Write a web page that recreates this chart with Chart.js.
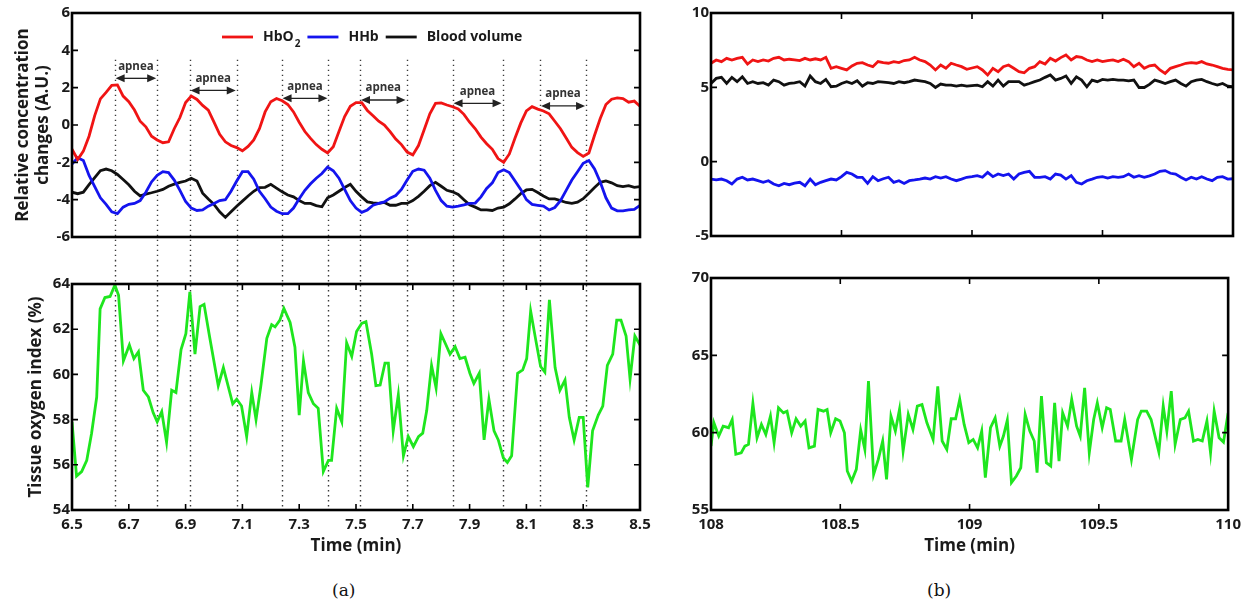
<!DOCTYPE html>
<html>
<head>
<meta charset="utf-8">
<title>NIRS during apnea</title>
<script src="https://cdn.jsdelivr.net/npm/chart.js@4.4.1/dist/chart.umd.min.js"></script>
<style>
  body { margin: 0; background: #fff; }
  #wrap { position: relative; width: 1247px; height: 608px; overflow: hidden; }
  canvas { position: absolute; }
  .cap { position: absolute; font-family: "DejaVu Serif", serif; font-size: 17px; color: #111; }
</style>
</head>
<body>
<div id="wrap">
  <canvas id="topA" width="660" height="260" style="left:0;top:0"></canvas>
  <canvas id="botA" width="660" height="300" style="left:0;top:260px"></canvas>
  <canvas id="topB" width="567" height="260" style="left:680px;top:0"></canvas>
  <canvas id="botB" width="567" height="300" style="left:680px;top:260px"></canvas>
  <div class="cap" style="left:332px;top:580px">(a)</div>
  <div class="cap" style="left:927px;top:580px">(b)</div>
</div>
<script>
// ---- panel (a): apnea episodes, 6.5 - 8.5 min ----
const timeA = [6.50, 6.52, 6.54, 6.56, 6.58, 6.60, 6.62, 6.64, 6.66, 6.68,
  6.70, 6.72, 6.74, 6.76, 6.78, 6.80, 6.82, 6.84, 6.86, 6.88,
  6.90, 6.92, 6.94, 6.96, 6.98, 7.00, 7.02, 7.04, 7.06, 7.08,
  7.10, 7.12, 7.14, 7.16, 7.18, 7.20, 7.22, 7.24, 7.26, 7.28,
  7.30, 7.32, 7.34, 7.36, 7.38, 7.40, 7.42, 7.44, 7.46, 7.48,
  7.50, 7.52, 7.54, 7.56, 7.58, 7.60, 7.62, 7.64, 7.66, 7.68,
  7.70, 7.72, 7.74, 7.76, 7.78, 7.80, 7.82, 7.84, 7.86, 7.88,
  7.90, 7.92, 7.94, 7.96, 7.98, 8.00, 8.02, 8.04, 8.06, 8.08,
  8.10, 8.12, 8.14, 8.16, 8.18, 8.20, 8.22, 8.24, 8.26, 8.28,
  8.30, 8.32, 8.34, 8.36, 8.38, 8.40, 8.42, 8.44, 8.46, 8.48, 8.50];

const hbo2A = [-1.3, -1.85, -1.4, -0.6, 0.5, 1.4, 1.75, 2.12, 2.15, 1.55,
  1.25, 0.8, 0.2, -0.1, -0.6, -0.8, -0.95, -0.9, -0.2, 0.4,
  1.2, 1.55, 1.37, 1.05, 0.8, 0.15, -0.5, -0.9, -1.1, -1.21,
  -1.38, -1.15, -0.8, -0.2, 0.7, 1.25, 1.42, 1.3, 1.1, 0.7,
  0.15, -0.35, -0.72, -1.05, -1.3, -1.5, -1.16, -0.35, 0.45, 1.0,
  1.2, 1.2, 0.78, 0.5, 0.2, 0.0, -0.35, -0.75, -1.05, -1.45,
  -1.6, -1.1, -0.25, 0.6, 1.16, 1.18, 1.07, 0.98, 0.86, 0.57,
  0.15, -0.2, -0.65, -1.0, -1.3, -1.8, -2.0, -1.55, -0.7, 0.1,
  0.75, 0.98, 0.85, 0.75, 0.6, 0.2, -0.2, -0.7, -1.2, -1.48,
  -1.68, -1.5, -0.55, 0.35, 1.1, 1.38, 1.45, 1.42, 1.22, 1.28, 1.0];

const hhbA = [-2.1, -1.75, -1.9, -2.7, -3.3, -3.9, -4.25, -4.65, -4.75, -4.4,
  -4.25, -4.2, -4.05, -3.6, -3.05, -2.7, -2.5, -2.55, -2.95, -3.5,
  -4.1, -4.45, -4.58, -4.55, -4.35, -4.2, -4.05, -4.0, -3.55, -3.0,
  -2.5, -2.5, -2.9, -3.55, -3.95, -4.4, -4.62, -4.75, -4.75, -4.45,
  -3.95, -3.5, -3.15, -2.85, -2.6, -2.25, -2.45, -2.85, -3.45, -4.05,
  -4.45, -4.68, -4.55, -4.3, -4.2, -4.12, -3.92, -3.78, -3.45, -2.95,
  -2.48, -2.36, -2.42, -2.85, -3.5, -4.05, -4.35, -4.4, -4.35, -4.28,
  -4.2, -4.18, -3.85, -3.4, -3.1, -2.55, -2.4, -2.55, -3.0, -3.45,
  -4.0, -4.25, -4.3, -4.35, -4.55, -4.42, -4.05, -3.5, -2.95, -2.5,
  -2.05, -1.9, -2.35, -3.05, -3.9, -4.45, -4.6, -4.6, -4.55, -4.52, -4.3];

const bvA = [-3.6, -3.68, -3.6, -3.2, -2.82, -2.45, -2.36, -2.45, -2.65, -2.92,
  -3.2, -3.55, -3.8, -3.7, -3.63, -3.55, -3.45, -3.28, -3.17, -3.07,
  -3.0, -2.85, -3.0, -3.65, -3.96, -4.25, -4.65, -4.95, -4.65, -4.35,
  -4.08, -3.8, -3.55, -3.35, -3.34, -3.18, -3.38, -3.58, -3.75, -3.85,
  -4.05, -4.2, -4.2, -4.32, -4.38, -3.9, -3.75, -3.55, -3.35, -3.18,
  -3.55, -3.85, -4.12, -4.17, -4.2, -4.15, -4.3, -4.3, -4.2, -4.2,
  -4.05, -3.82, -3.55, -3.25, -3.07, -3.28, -3.5, -3.58, -3.72, -4.0,
  -4.28, -4.4, -4.55, -4.55, -4.58, -4.45, -4.4, -4.22, -3.96, -3.68,
  -3.48, -3.45, -3.62, -3.8, -3.96, -3.96, -4.05, -4.15, -4.2, -4.13,
  -3.95, -3.65, -3.35, -3.07, -3.0, -3.1, -3.25, -3.3, -3.25, -3.34, -3.3];

const toiTimeA = [6.500, 6.516, 6.534, 6.552, 6.569, 6.587, 6.599, 6.616, 6.634, 6.651,
  6.664, 6.681, 6.702, 6.718, 6.734, 6.751, 6.769, 6.786, 6.800, 6.816,
  6.833, 6.851, 6.866, 6.884, 6.901, 6.915, 6.933, 6.951, 6.965, 6.984,
  7.015, 7.033, 7.066, 7.080, 7.097, 7.115, 7.133, 7.148, 7.165, 7.186,
  7.203, 7.215, 7.232, 7.246, 7.268, 7.285, 7.300, 7.315, 7.332, 7.350,
  7.367, 7.385, 7.403, 7.414, 7.432, 7.450, 7.467, 7.485, 7.502, 7.520,
  7.535, 7.555, 7.570, 7.585, 7.602, 7.614, 7.631, 7.649, 7.667, 7.684,
  7.702, 7.720, 7.735, 7.749, 7.766, 7.782, 7.799, 7.817, 7.831, 7.849,
  7.866, 7.884, 7.901, 7.915, 7.934, 7.951, 7.968, 7.986, 8.001, 8.019,
  8.033, 8.048, 8.069, 8.087, 8.101, 8.115, 8.134, 8.150, 8.165, 8.181,
  8.201, 8.218, 8.236, 8.251, 8.268, 8.286, 8.300, 8.316, 8.333, 8.353,
  8.369, 8.385, 8.404, 8.418, 8.433, 8.451, 8.465, 8.482, 8.500];

const toiA = [57.9, 55.5, 55.7, 56.2, 57.4, 59.0, 62.9, 63.4, 63.45, 63.95,
  63.5, 60.6, 61.3, 60.7, 61.0, 59.3, 59.0, 58.3, 57.9, 58.35,
  57.0, 59.3, 59.2, 61.1, 61.8, 63.65, 60.9, 63.0, 63.1, 61.7,
  59.5, 60.3, 58.7, 58.9, 58.6, 57.25, 59.2, 58.0, 59.5, 61.6,
  62.2, 62.1, 62.4, 62.92, 62.3, 61.2, 58.2, 60.6, 59.2, 58.7,
  58.5, 55.7, 56.2, 56.2, 58.5, 57.9, 61.4, 60.8, 61.9, 62.26,
  62.33, 60.9, 59.5, 59.53, 60.5, 60.5, 57.5, 59.1, 56.4, 57.25,
  56.8, 57.25, 57.4, 58.4, 60.4, 59.4, 61.8, 61.3, 60.9, 61.23,
  60.7, 60.76, 60.05, 59.6, 60.05, 57.1, 58.9, 57.5, 57.1, 56.3,
  56.1, 56.4, 60.05, 60.2, 60.7, 62.8, 61.45, 60.35, 60.1, 63.3,
  60.3, 59.3, 59.75, 58.1, 57.1, 58.1, 58.1, 55.0, 57.5, 58.2,
  58.6, 60.4, 60.9, 62.4, 62.4, 61.7, 59.8, 61.7, 61.3];

// apnea markers (start/end pairs) and arrow heights in A.U.
const apneaTimes = [6.65, 6.80, 6.914, 7.08, 7.238, 7.403, 7.514, 7.678, 7.84, 8.016, 8.148, 8.31];
const apneaArrowLevel = [2.5, 1.85, 1.43, 1.34, 1.16, 1.02];
const apneaLabel = 'apnea';

const xTicksA = [6.5, 6.7, 6.9, 7.1, 7.3, 7.5, 7.7, 7.9, 8.1, 8.3, 8.5];
const yTicksHbA = [-6, -4, -2, 0, 2, 4, 6];
const yTicksToiA = [54, 56, 58, 60, 62, 64];

// ---- panel (b): normal breathing, 108 - 110 min ----
const timeB = [108.00, 108.02, 108.04, 108.06, 108.08, 108.10, 108.12, 108.14, 108.16, 108.18,
  108.20, 108.22, 108.24, 108.26, 108.28, 108.30, 108.32, 108.34, 108.36, 108.38,
  108.40, 108.42, 108.44, 108.46, 108.48, 108.50, 108.52, 108.54, 108.56, 108.58,
  108.60, 108.62, 108.64, 108.66, 108.68, 108.70, 108.72, 108.74, 108.76, 108.78,
  108.80, 108.82, 108.84, 108.86, 108.88, 108.90, 108.92, 108.94, 108.96, 108.98,
  109.00, 109.02, 109.04, 109.06, 109.08, 109.10, 109.12, 109.14, 109.16, 109.18,
  109.20, 109.22, 109.24, 109.26, 109.28, 109.30, 109.32, 109.34, 109.36, 109.38,
  109.40, 109.42, 109.44, 109.46, 109.48, 109.50, 109.52, 109.54, 109.56, 109.58,
  109.60, 109.62, 109.64, 109.66, 109.68, 109.70, 109.72, 109.74, 109.76, 109.78,
  109.80, 109.82, 109.84, 109.86, 109.88, 109.90, 109.92, 109.94, 109.96, 109.98, 110.00];

const hbo2B = [6.62, 6.84, 6.73, 6.95, 6.84, 6.95, 7.02, 6.57, 6.84, 6.73,
  6.84, 6.77, 6.95, 7.02, 6.84, 6.89, 6.85, 6.80, 6.95, 6.84,
  6.92, 6.84, 7.02, 6.28, 6.39, 6.28, 6.17, 6.44, 6.62, 6.66,
  6.50, 6.39, 6.73, 6.66, 6.62, 6.73, 6.66, 6.80, 6.84, 7.02,
  6.84, 6.73, 6.50, 6.17, 6.50, 6.28, 6.62, 6.50, 6.39, 6.21,
  6.30, 6.39, 6.17, 5.83, 6.28, 6.05, 6.39, 6.50, 6.28, 6.05,
  5.98, 6.28, 6.39, 6.73, 6.57, 6.95, 6.77, 7.00, 7.18, 6.84,
  7.07, 7.02, 6.84, 6.73, 6.84, 6.73, 6.80, 6.84, 6.73, 6.89,
  6.73, 6.39, 6.62, 6.28, 6.45, 6.50, 6.17, 5.94, 6.28, 6.39,
  6.50, 6.62, 6.66, 6.62, 6.73, 6.57, 6.50, 6.39, 6.28, 6.21, 6.17];

const hhbB = [-1.17, -1.23, -1.17, -1.28, -1.50, -1.17, -1.05, -1.23, -1.17, -1.28,
  -1.39, -1.28, -1.50, -1.62, -1.46, -1.55, -1.45, -1.39, -1.62, -1.17,
  -1.55, -1.39, -1.28, -1.17, -1.23, -1.01, -0.72, -0.83, -1.05, -1.05,
  -1.46, -1.01, -1.28, -1.15, -1.05, -1.39, -1.28, -1.46, -1.28, -1.23,
  -1.17, -1.10, -1.17, -1.01, -1.10, -1.01, -1.17, -1.28, -1.17, -1.05,
  -1.00, -0.94, -1.05, -0.72, -1.01, -0.83, -0.94, -0.83, -1.17, -0.83,
  -0.72, -0.65, -1.05, -1.05, -1.01, -1.17, -0.83, -0.90, -1.17, -0.94,
  -1.39, -1.50, -1.28, -1.17, -1.05, -1.01, -1.10, -1.01, -1.05, -1.01,
  -0.83, -1.05, -0.94, -1.05, -0.95, -0.83, -0.65, -0.60, -0.78, -0.83,
  -1.05, -1.23, -1.05, -1.17, -1.01, -1.17, -1.28, -1.05, -1.01, -1.17, -1.15];

const bvB = [5.26, 5.60, 5.67, 5.26, 5.67, 5.38, 5.71, 5.26, 5.38, 5.26,
  5.31, 5.15, 5.49, 5.38, 5.15, 5.26, 5.30, 5.38, 5.08, 5.76,
  5.38, 5.26, 5.53, 5.04, 5.08, 5.26, 5.38, 5.26, 5.44, 5.08,
  5.31, 5.26, 5.38, 5.35, 5.31, 5.26, 5.38, 5.31, 5.38, 5.49,
  5.44, 5.38, 5.26, 4.99, 5.22, 5.15, 5.15, 5.08, 5.15, 5.08,
  5.12, 5.15, 5.04, 5.38, 5.08, 5.49, 5.08, 5.38, 5.38, 5.38,
  5.15, 5.26, 5.38, 5.49, 5.67, 5.83, 5.49, 5.60, 5.76, 5.26,
  5.71, 5.49, 5.04, 5.49, 5.38, 5.53, 5.49, 5.53, 5.49, 5.49,
  5.44, 5.49, 4.99, 4.99, 5.20, 5.49, 5.38, 5.26, 5.38, 5.49,
  5.26, 5.08, 5.38, 5.49, 5.53, 5.38, 5.26, 5.15, 5.26, 5.08, 5.04];

const toiTimeB = [108.000, 108.011, 108.030, 108.047, 108.068, 108.082, 108.096, 108.117, 108.131, 108.145,
  108.162, 108.178, 108.195, 108.212, 108.230, 108.244, 108.261, 108.280, 108.294, 108.312,
  108.329, 108.347, 108.364, 108.379, 108.400, 108.414, 108.435, 108.449, 108.463, 108.482,
  108.499, 108.516, 108.527, 108.544, 108.562, 108.579, 108.595, 108.609, 108.629, 108.647,
  108.664, 108.679, 108.696, 108.713, 108.729, 108.743, 108.763, 108.781, 108.798, 108.816,
  108.835, 108.859, 108.877, 108.894, 108.912, 108.929, 108.946, 108.962, 108.979, 108.997,
  109.014, 109.031, 109.047, 109.061, 109.081, 109.099, 109.117, 109.131, 109.146, 109.162,
  109.181, 109.198, 109.215, 109.233, 109.250, 109.261, 109.278, 109.297, 109.314, 109.329,
  109.346, 109.360, 109.379, 109.395, 109.414, 109.428, 109.445, 109.463, 109.480, 109.494,
  109.513, 109.530, 109.544, 109.565, 109.586, 109.600, 109.626, 109.650, 109.664, 109.685,
  109.702, 109.732, 109.749, 109.763, 109.780, 109.795, 109.815, 109.833, 109.847, 109.866,
  109.883, 109.900, 109.918, 109.932, 109.946, 109.965, 109.982, 110.000];

const toiB = [59.13, 60.64, 59.78, 60.42, 60.32, 60.85, 58.6, 58.7, 59.13, 59.24,
  61.89, 59.67, 60.53, 59.89, 61.07, 59.35, 61.61, 61.28, 61.39, 59.99,
  60.9, 60.42, 60.75, 59.02, 59.13, 61.5, 61.39, 61.5, 59.99, 60.9,
  60.75, 59.99, 57.52, 56.87, 57.63, 60.17, 58.92, 63.33, 57.3, 58.27,
  59.46, 56.98, 61.07, 60.1, 61.5, 58.81, 61.18, 60.21, 61.72, 61.82,
  60.64, 59.56, 63.0, 59.46, 58.92, 60.9, 60.9, 62.15, 60.53, 59.35,
  59.56, 59.02, 60.1, 57.09, 60.32, 60.96, 59.13, 59.78, 60.81, 56.77,
  57.2, 57.73, 61.18, 60.1, 59.46, 57.41, 62.36, 58.06, 57.84, 61.93,
  58.16, 61.28, 60.42, 62.15, 60.42, 59.78, 62.9, 58.7, 60.85, 61.93,
  60.32, 61.61, 61.5, 59.46, 59.46, 60.85, 58.27, 60.85, 61.39, 61.39,
  60.85, 58.75, 61.72, 60.1, 62.68, 59.24, 60.85, 60.96, 61.39, 59.46,
  59.56, 59.46, 60.75, 58.7, 61.39, 59.67, 59.39, 61.28];

const xTicksB = [108, 108.5, 109, 109.5, 110];
const yTicksHbB = [-5, 0, 5, 10];
const yTicksToiB = [55, 60, 65, 70];

const RED = '#f01414';
const BLUE = '#1414ee';
const BLACK = '#111111';
const GREEN = '#1ee61e';

const FONT = '"Open Sans", "DejaVu Sans", sans-serif';
Chart.defaults.font.family = FONT;
Chart.defaults.color = '#1a1a1a';

const tickFont = { size: 15, weight: 'bold' };
const titleFont = { size: 17, weight: 'bold' };

function series(label, xs, ys, color) {
  return {
    label: label,
    data: xs.map((x, i) => ({ x: x, y: ys[i] })),
    borderColor: color,
    borderWidth: 2.8,
    pointRadius: 0,
    tension: 0,
    fill: false
  };
}

function fixedTicks(list) {
  return s => { s.ticks = list.map(v => ({ value: v })); };
}

// box around the plot with inward tick marks on all sides
const framePlugin = {
  id: 'frame',
  afterDraw(chart, args, opts) {
    const { ctx, chartArea: a, scales: { x, y } } = chart;
    const len = 6;
    ctx.save();
    ctx.strokeStyle = '#000';
    ctx.lineWidth = 1.6;
    ctx.beginPath();
    y.ticks.forEach(t => {
      const py = y.getPixelForValue(t.value);
      if (py <= a.top + 1 || py >= a.bottom - 1) return;
      ctx.moveTo(a.left, py); ctx.lineTo(a.left + len, py);
      ctx.moveTo(a.right, py); ctx.lineTo(a.right - len, py);
    });
    if (opts.xMarks) {
      x.ticks.forEach(t => {
        const px = x.getPixelForValue(t.value);
        if (px <= a.left + 1 || px >= a.right - 1) return;
        ctx.moveTo(px, a.bottom); ctx.lineTo(px, a.bottom - len);
        ctx.moveTo(px, a.top); ctx.lineTo(px, a.top + len);
      });
    }
    ctx.stroke();
    ctx.lineWidth = 2.6;
    ctx.strokeRect(a.left, a.top, a.right - a.left, a.bottom - a.top);
    ctx.restore();
  }
};

// dotted apnea markers + arrows
const apneaPlugin = {
  id: 'apnea',
  beforeDatasetsDraw(chart, args, opts) {
    const { ctx, chartArea: a, scales: { x, y } } = chart;
    const y0 = opts.from === undefined ? 0 : y.getPixelForValue(opts.from);
    const y1 = opts.toEdge ? chart.height : a.bottom;
    ctx.save();
    ctx.strokeStyle = '#3a3a3a';
    ctx.lineWidth = 1.4;
    ctx.setLineDash([1.4, 3.6]);
    apneaTimes.forEach(t => {
      const px = Math.round(x.getPixelForValue(t)) + 0.5;
      ctx.beginPath(); ctx.moveTo(px, y0); ctx.lineTo(px, y1); ctx.stroke();
    });
    ctx.restore();
  },
  afterDatasetsDraw(chart, args, opts) {
    if (!opts.arrows) return;
    const { ctx, scales: { x, y } } = chart;
    ctx.save();
    ctx.strokeStyle = '#222';
    ctx.fillStyle = '#222';
    ctx.lineWidth = 1.3;
    ctx.font = 'bold 11.5px ' + FONT;
    ctx.textAlign = 'center';
    ctx.textBaseline = 'middle';
    apneaArrowLevel.forEach((lv, k) => {
      const xa = x.getPixelForValue(apneaTimes[2 * k]) + 1;
      const xb = x.getPixelForValue(apneaTimes[2 * k + 1]) - 1;
      const py = y.getPixelForValue(lv);
      ctx.beginPath(); ctx.moveTo(xa + 6, py); ctx.lineTo(xb - 6, py); ctx.stroke();
      ctx.beginPath(); ctx.moveTo(xa, py); ctx.lineTo(xa + 9, py - 4); ctx.lineTo(xa + 9, py + 4); ctx.closePath(); ctx.fill();
      ctx.beginPath(); ctx.moveTo(xb, py); ctx.lineTo(xb - 9, py - 4); ctx.lineTo(xb - 9, py + 4); ctx.closePath(); ctx.fill();
      ctx.fillStyle = '#333';
      ctx.fillText(apneaLabel, (xa + xb) / 2, py - 12);
      ctx.fillStyle = '#222';
    });
    ctx.restore();
  }
};

// legend drawn inside the top-left plot, HbO2 with subscript
const legendPlugin = {
  id: 'inlineLegend',
  afterDraw(chart) {
    const { ctx, chartArea: a } = chart;
    const y = a.top + 24;
    let x = a.left + 150;
    ctx.save();
    ctx.textBaseline = 'middle';
    ctx.fillStyle = '#1a1a1a';
    chart.data.datasets.forEach(ds => {
      ctx.strokeStyle = ds.borderColor;
      ctx.lineWidth = 2.8;
      ctx.beginPath(); ctx.moveTo(x, y); ctx.lineTo(x + 31, y); ctx.stroke();
      x += 41;
      const m = ds.label.match(/^(.*\D)(\d)$/);
      const main = m ? m[1] : ds.label;
      ctx.font = 'bold 14px ' + FONT;
      ctx.fillText(main, x, y);
      x += ctx.measureText(main).width;
      if (m) {
        ctx.font = 'bold 10px ' + FONT;
        ctx.fillText(m[2], x + 1, y + 7);
        x += ctx.measureText(m[2]).width + 1;
      }
      x += 7;
    });
    ctx.restore();
  }
};

function hiddenX(min, max, ticks) {
  return {
    type: 'linear', min: min, max: max,
    afterBuildTicks: fixedTicks(ticks),
    afterFit: s => { s.height = 0; },
    ticks: { display: false },
    grid: { display: false, drawTicks: false },
    border: { display: false }
  };
}

function labelledX(min, max, ticks) {
  return {
    type: 'linear', min: min, max: max,
    afterBuildTicks: fixedTicks(ticks),
    afterFit: s => { s.height = 50; },
    ticks: { font: tickFont, padding: 6, autoSkip: false, maxRotation: 0, callback: v => String(v) },
    grid: { display: false, drawTicks: false },
    border: { display: false },
    title: { display: true, text: 'Time (min)', font: titleFont, padding: { top: 0, bottom: 4 } }
  };
}

function yAxis(min, max, ticks, width, title, titlePad) {
  const ax = {
    min: min, max: max,
    afterBuildTicks: fixedTicks(ticks),
    afterFit: s => { s.width = width; },
    ticks: { font: tickFont, padding: 2, callback: v => String(v) },
    grid: { display: false, drawTicks: false },
    border: { display: false }
  };
  if (title) ax.title = { display: true, text: title, font: titleFont, padding: { top: titlePad, bottom: 0 } };
  return ax;
}

function baseOptions(padding, x, y, extra) {
  return {
    responsive: false,
    animation: false,
    layout: { padding: padding },
    plugins: Object.assign({ legend: { display: false }, tooltip: { enabled: false } }, extra),
    scales: { x: x, y: y }
  };
}

new Chart(document.getElementById('topA'), {
  type: 'line',
  data: { datasets: [
    series('HbO2', timeA, hbo2A, RED),
    series('HHb', timeA, hhbA, BLUE),
    series('Blood volume', timeA, bvA, BLACK)
  ] },
  options: baseOptions({ top: 13, right: 20, bottom: 23, left: 0 },
    hiddenX(6.5, 8.5, xTicksA),
    yAxis(-6, 6, yTicksHbA, 72, ['Relative concentration', 'changes (A.U.)'], 13),
    { frame: { xMarks: false }, apnea: { from: 3.5, toEdge: true, arrows: true } }),
  plugins: [apneaPlugin, framePlugin, legendPlugin]
});

new Chart(document.getElementById('botA'), {
  type: 'line',
  data: { datasets: [series('Tissue oxygen index', toiTimeA, toiA, GREEN)] },
  options: baseOptions({ top: 24, right: 20, bottom: 0, left: 0 },
    labelledX(6.5, 8.5, xTicksA),
    yAxis(54, 64, yTicksToiA, 72, 'Tissue oxygen index (%)', 26),
    { frame: { xMarks: true }, apnea: { toEdge: false, arrows: false } }),
  plugins: [apneaPlugin, framePlugin]
});

new Chart(document.getElementById('topB'), {
  type: 'line',
  data: { datasets: [
    series('HbO2', timeB, hbo2B, RED),
    series('HHb', timeB, hhbB, BLUE),
    series('Blood volume', timeB, bvB, BLACK)
  ] },
  options: baseOptions({ top: 13, right: 14, bottom: 24, left: 0 },
    hiddenX(108, 110, xTicksB),
    yAxis(-5, 10, yTicksHbB, 31),
    { frame: { xMarks: true } }),
  plugins: [framePlugin]
});

new Chart(document.getElementById('botB'), {
  type: 'line',
  data: { datasets: [series('Tissue oxygen index', toiTimeB, toiB, GREEN)] },
  options: baseOptions({ top: 18, right: 14, bottom: 0, left: 0 },
    labelledX(108, 110, xTicksB),
    yAxis(55, 70, yTicksToiB, 31),
    { frame: { xMarks: true } }),
  plugins: [framePlugin]
});
</script>
</body>
</html>
